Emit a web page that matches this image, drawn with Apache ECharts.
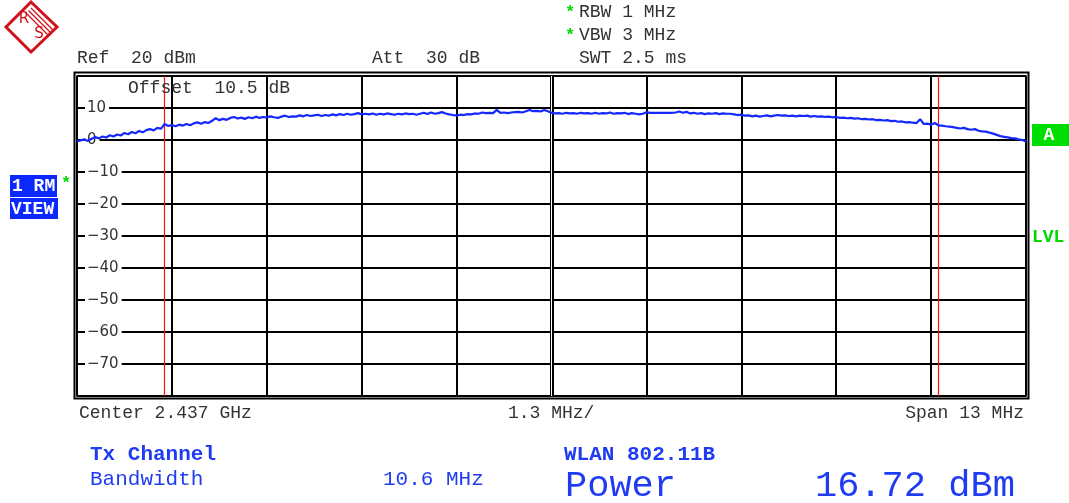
<!DOCTYPE html>
<html>
<head>
<meta charset="utf-8">
<script src="https://cdn.jsdelivr.net/npm/echarts@6/dist/echarts.min.js"></script>
<style>
html,body{margin:0;padding:0;background:#fff;}
#chart{width:1069px;height:503px;}
</style>
</head>
<body>
<div id="chart"></div>
<script>
// ---- data ----
const sweepStartKHz = -6500;   // relative to centre 2.437 GHz
const sweepStopKHz = 6500;
const divisionKHz = 1300;
const levelMin = -80;
const levelMax = 20;
const levelStep = 10;
const channelEdgesKHz = [-5300, 5300];   // 10.6 MHz channel bandwidth
const traceLevels = [
  -0.4, -0.1, 0.2, -0.3, 0.4, 0.9, 0.5, 1.1, 0.8, 1.5, 1.1, 1.7, 1.4, 2.2, 1.8, 2.5, 2.1, 2.8, 2.4, 3.1,
  3.4, 3.0, 3.8, 3.5, 5.0, 4.4, 4.7, 4.3, 4.8, 4.5, 5.0, 4.6, 5.2, 5.5, 5.1, 5.6, 5.3, 6.0, 6.8, 6.2,
  6.6, 6.3, 6.9, 7.2, 6.7, 7.0, 6.6, 7.1, 6.8, 7.3, 6.9, 7.2, 7.0, 7.4, 7.1, 6.9, 7.3, 7.6, 7.2, 7.4,
  7.3, 7.7, 7.4, 7.8, 7.5, 7.7, 7.9, 7.5, 7.8, 7.6, 8.0, 7.7, 8.1, 7.8, 8.2, 7.9, 8.1, 8.4, 8.0, 8.2,
  8.0, 8.3, 7.9, 8.2, 8.0, 8.3, 8.1, 7.9, 8.2, 8.0, 8.3, 8.1, 8.2, 7.9, 8.2, 8.5, 8.1, 8.6, 8.2, 8.4,
  8.7, 8.3, 8.0, 7.8, 7.7, 7.9, 7.8, 8.1, 8.0, 8.3, 8.2, 8.6, 8.4, 8.5, 8.4, 9.4, 8.5, 8.6, 8.4, 8.6,
  8.7, 8.8, 8.6, 9.0, 9.4, 9.0, 9.1, 8.9, 9.4, 9.0, 8.5, 8.3, 8.4, 8.2, 8.5, 8.3, 8.4, 8.2, 8.5, 8.3,
  8.4, 8.2, 8.5, 8.2, 8.4, 8.3, 8.6, 8.2, 8.4, 8.3, 8.5, 8.1, 8.4, 8.2, 8.0, 8.2, 8.7, 8.5, 8.5, 8.5,
  8.5, 8.5, 8.5, 8.5, 8.6, 8.9, 8.5, 8.8, 8.3, 8.5, 8.2, 8.4, 8.1, 8.3, 8.2, 8.4, 8.1, 8.3, 8.2, 8.2,
  8.0, 7.8, 7.9, 7.6, 7.7, 7.4, 7.6, 7.3, 7.5, 7.7, 7.4, 7.6, 7.8, 7.6, 7.7, 7.5, 7.6, 7.4, 7.6, 7.5,
  7.6, 7.3, 7.5, 7.3, 7.4, 7.2, 7.3, 7.1, 7.2, 6.9, 7.0, 6.8, 6.9, 6.7, 6.8, 6.5, 6.6, 6.4, 6.5, 6.2,
  6.3, 6.1, 6.2, 5.9, 6.0, 5.7, 5.8, 5.5, 5.6, 5.4, 5.3, 6.5, 5.0, 5.1, 4.8, 5.3, 4.6, 4.5, 4.3, 4.2,
  4.0, 3.8, 3.6, 3.8, 3.4, 3.2, 3.4, 2.9, 2.7, 2.6, 2.3, 2.0, 1.6, 1.2, 1.0, 0.8, 0.6, 0.5, 0.2, 0.0,
  -0.5];
const headerTexts = ['Ref  20 dBm', 'Att  30 dB', 'SWT 2.5 ms', 'RBW 1 MHz', 'VBW 3 MHz', 'Offset  10.5 dB'];
const footerTexts = ['Center 2.437 GHz', '1.3 MHz/', 'Span 13 MHz'];
const resultTexts = ['Tx Channel', 'Bandwidth', '10.6 MHz', 'WLAN 802.11B', 'Power', '16.72 dBm'];
const sideTexts = ['1 RM', 'VIEW', 'A', 'LVL'];

// ---- build ----
const stepKHz = (sweepStopKHz - sweepStartKHz) / (traceLevels.length - 1);
const traceData = traceLevels.map((v, i) => [sweepStartKHz + i * stepKHz, v]);

const MONO = "'Liberation Mono', 'Courier New', monospace";
const GREY = '#333';
const BLUE = '#1f3cf2';
const GREEN = '#00d800';
const RS_RED = '#d0101a';

function txt(text, x, y, size, color, opts) {
  return {
    type: 'text', x: x, y: y, silent: true, z: 50,
    style: {
      text: text, fill: color, font: (opts && opts.bold ? 'bold ' : '') + size + 'px ' + MONO,
      textVerticalAlign: 'middle', textAlign: (opts && opts.align) || 'left'
    }
  };
}

const chart = echarts.init(document.getElementById('chart'), null, {renderer: 'canvas'});
const graphics = [
  // R&S logo
  {type: 'polygon', silent: true, shape: {points: [[31, 2], [57, 27], [31, 52], [6, 27]]},
   style: {fill: '#fff', stroke: RS_RED, lineWidth: 3}},
  {type: 'line', silent: true, shape: {x1: 26, y1: 13, x2: 48, y2: 35}, style: {stroke: RS_RED, lineWidth: 1.3}},
  {type: 'line', silent: true, shape: {x1: 28.5, y1: 10.5, x2: 50.5, y2: 32.5}, style: {stroke: RS_RED, lineWidth: 1.3}},
  {type: 'line', silent: true, shape: {x1: 31, y1: 8, x2: 53, y2: 30}, style: {stroke: RS_RED, lineWidth: 1.3}},
  {type: 'text', silent: true, x: 24, y: 19, style: {text: 'R', fill: RS_RED, font: '15px "DejaVu Sans"', textAlign: 'center', textVerticalAlign: 'middle'}},
  {type: 'text', silent: true, x: 39, y: 34, style: {text: 'S', fill: RS_RED, font: '15px "DejaVu Sans"', textAlign: 'center', textVerticalAlign: 'middle'}},
  // outer frame
  {type: 'rect', silent: true, z: 40, shape: {x: 74.5, y: 72.5, width: 954, height: 326}, style: {fill: 'none', stroke: '#000', lineWidth: 2}},
  // header
  txt(headerTexts[0], 77, 58, 18, GREY),
  txt(headerTexts[1], 372, 58, 18, GREY),
  txt(headerTexts[2], 579, 58, 18, GREY),
  txt(headerTexts[3], 579, 12, 18, GREY),
  txt(headerTexts[4], 579, 35, 18, GREY),
  txt('*', 565, 13, 17, GREEN, {bold: true}),
  txt('*', 565, 36, 17, GREEN, {bold: true}),
  txt(headerTexts[5], 128, 88, 18, GREY),
  // footer
  txt(footerTexts[0], 79, 413, 18, GREY),
  txt(footerTexts[1], 508, 413, 18, GREY),
  txt(footerTexts[2], 1024, 413, 18, GREY, {align: 'right'}),
  // results
  txt(resultTexts[0], 90, 455, 21, BLUE, {bold: true}),
  txt(resultTexts[1], 90, 479, 21, BLUE),
  txt(resultTexts[2], 383, 479, 21, BLUE),
  txt(resultTexts[3], 564, 455, 21, BLUE, {bold: true}),
  txt(resultTexts[4], 565, 486, 37, BLUE),
  txt(resultTexts[5], 815, 486, 37, BLUE),
  // side markers
  {type: 'rect', silent: true, shape: {x: 10, y: 175, width: 47, height: 22}, style: {fill: '#0a28ff'}},
  {type: 'rect', silent: true, shape: {x: 10, y: 198, width: 48, height: 21}, style: {fill: '#0a28ff'}},
  txt(sideTexts[0], 12, 186, 18, '#fff', {bold: true}),
  txt(sideTexts[1], 11, 209, 18, '#fff', {bold: true}),
  txt('*', 61, 184, 17, GREEN, {bold: true}),
  {type: 'rect', silent: true, shape: {x: 1032, y: 124, width: 37, height: 22}, style: {fill: '#00dd00'}},
  txt(sideTexts[2], 1049, 135, 18, '#fff', {bold: true, align: 'center'}),
  txt(sideTexts[3], 1032, 237, 18, GREEN, {bold: true})
];

const option = {
  animation: false,
  backgroundColor: '#fff',
  grid: {left: 77, right: 43, top: 76, bottom: 107, show: true, borderColor: '#000', borderWidth: 1.5, backgroundColor: '#fff'},
  xAxis: {
    type: 'value', min: sweepStartKHz, max: sweepStopKHz, interval: divisionKHz,
    axisLabel: {show: false}, axisTick: {show: false}, axisLine: {show: false},
    splitLine: {show: true, lineStyle: {color: '#000', width: 2}}
  },
  yAxis: {
    type: 'value', min: levelMin, max: levelMax, interval: levelStep,
    axisLine: {show: false}, axisTick: {show: false},
    splitLine: {show: true, lineStyle: {color: '#000', width: 2}},
    axisLabel: {
      inside: true, margin: 8, showMinLabel: false, showMaxLabel: false,
      fontSize: 15, fontFamily: 'DejaVu Sans', color: GREY,
      backgroundColor: '#fff', padding: [0, 3, 0, 2],
      formatter: v => String(v).replace('-', '\u2212')
    },
    z: 3
  },
  graphic: graphics,
  series: [
    {
      type: 'line', data: [], z: 4, silent: true,
      markLine: {
        silent: true, symbol: ['none', 'none'], label: {show: false},
        data: [
          {xAxis: 0, lineStyle: {color: '#000', width: 4, type: 'solid'}},
          {xAxis: 0, lineStyle: {color: '#fff', width: 1, type: 'solid'}},
          {xAxis: channelEdgesKHz[0], lineStyle: {color: '#ff1010', width: 1.2, type: 'solid'}},
          {xAxis: channelEdgesKHz[1], lineStyle: {color: '#ff1010', width: 1.2, type: 'solid'}}
        ]
      }
    },
    {
      type: 'line', data: traceData, z: 10, showSymbol: false, silent: true,
      lineStyle: {color: '#1428ff', width: 2.2}
    }
  ]
};
chart.setOption(option);
</script>
</body>
</html>
